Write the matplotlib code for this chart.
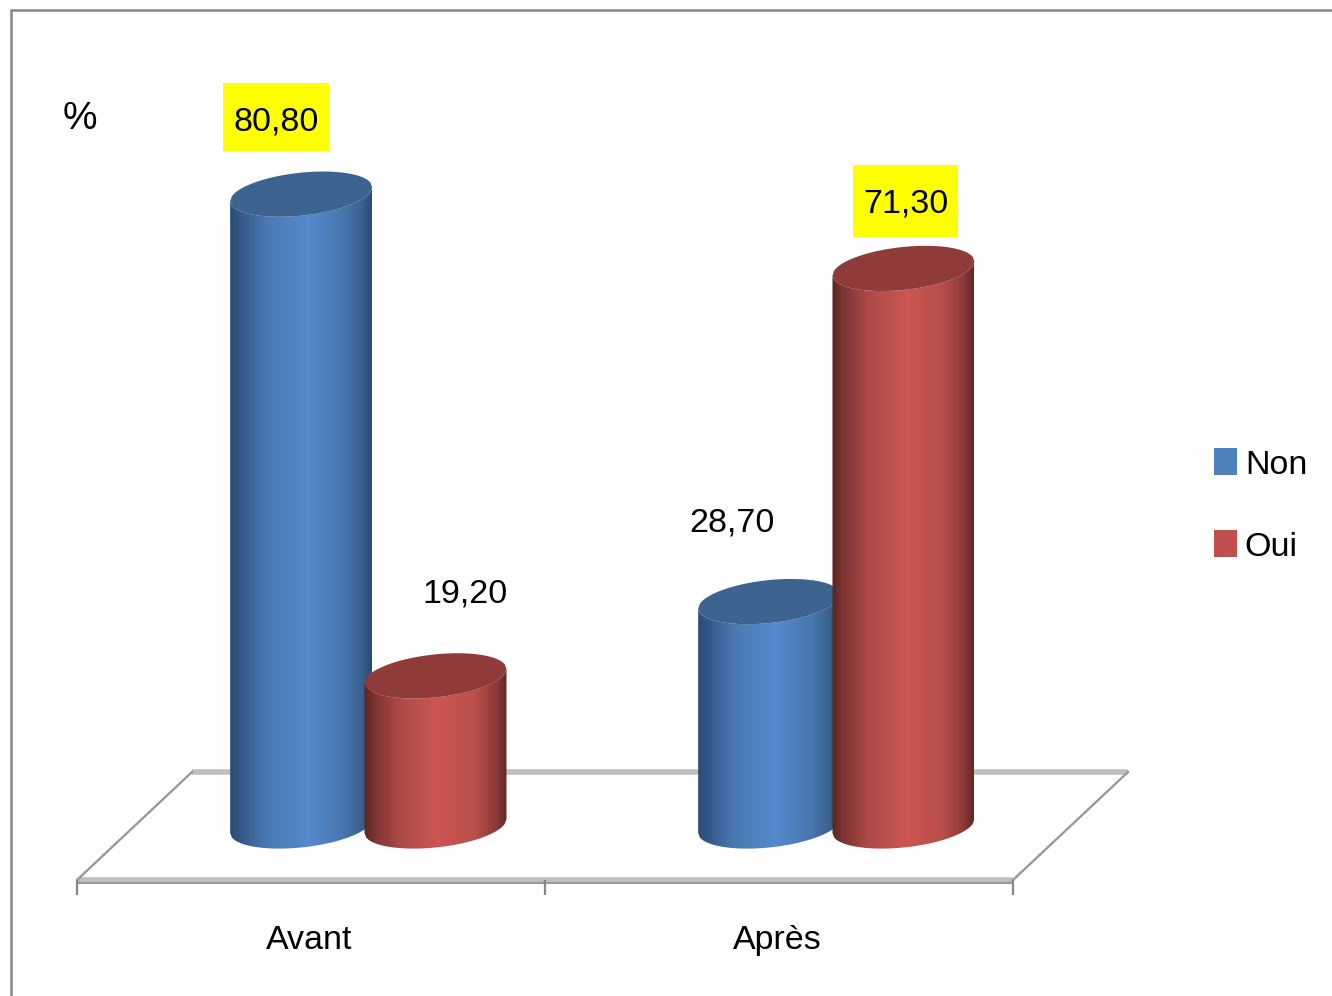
import numpy as np
import matplotlib
matplotlib.use("Agg")
import matplotlib.pyplot as plt
from matplotlib.colors import LinearSegmentedColormap
from matplotlib.patches import Patch, PathPatch, Polygon, Rectangle
from matplotlib.path import Path

plt.rcParams['font.family'] = ['Liberation Sans', 'DejaVu Sans']

# donnees
categories = ['Avant', 'Après']
series_names = ['Non', 'Oui']
non_values = [80.80, 28.70]
oui_values = [19.20, 71.30]

W, H = 1332, 996
PX_X = 468.0   # pixels par categorie
PX_Y = 7.82    # pixels par point de %
X0 = 311.0     # pixel de la categorie 0
Y0 = 826.0     # pixel de la valeur 0

FONT = 24.5

blue_cmap = LinearSegmentedColormap.from_list('blue', [
    (0.0, '#2b4c74'), (0.08, '#35598a'), (0.25, '#4a79b2'), (0.55, '#5589cc'),
    (0.78, '#4a79b2'), (0.93, '#3a6190'), (1.0, '#2b4c74')])
red_cmap = LinearSegmentedColormap.from_list('red', [
    (0.0, '#5c2624'), (0.08, '#7f3532'), (0.25, '#ad4a47'), (0.52, '#cc5652'),
    (0.78, '#b84f4b'), (0.93, '#8a3a37'), (1.0, '#632825')])
TOP_COLORS = {'Non': '#3d6490', 'Oui': '#8f3b3a'}
FLAT_COLORS = {'Non': '#4f81bd', 'Oui': '#c0504d'}
CMAPS = {'Non': blue_cmap, 'Oui': red_cmap}

fig = plt.figure(figsize=(W / 100, H / 100), dpi=100)
ax = fig.add_axes([0, 0, 1, 1])
xlim = (-X0 / PX_X, (W - X0) / PX_X)
ylim = ((Y0 - H) / PX_Y, Y0 / PX_Y)
ax.set_xlim(xlim)
ax.set_ylim(ylim)
ax.axis('off')


def arc(cx, cy, half_w, half_h, shear, sign, reverse=False):
    """ moitie d'ellipse inclinee (sign=-1 dessous, sign=1 dessus) """
    t = np.linspace(-1, 1, 80)
    if reverse:
        t = t[::-1]
    return np.column_stack([cx + half_w * t,
                            cy + shear * t + sign * half_h * np.sqrt(1 - t ** 2)])


def cylinder(x, value, name, zorder):
    half_w = 71 / PX_X
    half_h = 21.5 / PX_Y
    shear = 7 / PX_Y
    # corps du cylindre
    outline = np.vstack([arc(x, 0, half_w, half_h, shear, -1),
                         arc(x, value, half_w, half_h, shear, -1, reverse=True)])
    body = PathPatch(Path(outline), fc='none', ec='none', zorder=zorder)
    ax.add_patch(body)
    grad = np.linspace(0, 1, 142).reshape(1, -1)
    img = ax.imshow(grad, cmap=CMAPS[name], aspect='auto', zorder=zorder,
                    extent=[x - half_w, x + half_w, -6, value + 6])
    img.set_clip_path(body)
    # dessus
    top = np.vstack([arc(x, value, half_w, half_h, shear, -1),
                     arc(x, value, half_w, half_h, shear, 1, reverse=True)])
    ax.add_patch(Polygon(top, closed=True, fc=TOP_COLORS[name], ec='none', zorder=zorder))


# plancher
floor_y_front = -54 / PX_Y
floor_y_back = 54 / PX_Y
left = -0.5
right = len(categories) - 0.5
depth = 115 / PX_X
ax.plot([left + depth, right + depth], [floor_y_back, floor_y_back],
        color='#bfbfbf', lw=4, solid_capstyle='butt', zorder=1)
ax.plot([left, right], [floor_y_front, floor_y_front],
        color='#bfbfbf', lw=4, solid_capstyle='butt', zorder=1)
ax.plot([left, right], [floor_y_front - 3 / PX_Y, floor_y_front - 3 / PX_Y],
        color='#999999', lw=1.5, solid_capstyle='butt', zorder=1)
for x_start in (left, right):
    ax.plot([x_start, x_start + depth], [floor_y_front, floor_y_back],
            color='#999999', lw=1.7, zorder=1)
for tick in np.arange(left, right + 0.5):
    ax.plot([tick, tick], [floor_y_front, floor_y_front - 15 / PX_Y],
            color='#868686', lw=1.6, solid_capstyle='butt', zorder=1)

# barres
offsets = {'Non': -0.021, 'Oui': 0.266}
values = {'Non': non_values, 'Oui': oui_values}
# decalage des etiquettes par rapport au sommet (pixels)
label_shift = {('Non', 0): (-25, 72), ('Oui', 0): (30, 82),
               ('Non', 1): (-37, 79), ('Oui', 1): (2, 64)}
# surlignage jaune : largeur, hauteur, decalage vertical par rapport au texte
highlighted = {('Non', 0): (106, 68, 5), ('Oui', 1): (105, 72, 3)}

zorder = 2
for i in range(len(categories)):
    for name in series_names:
        v = values[name][i]
        x = i + offsets[name]
        cylinder(x, v, name, zorder)
        zorder += 1
        dx, dy = label_shift[(name, i)]
        tx = x + dx / PX_X
        ty = v + dy / PX_Y
        if (name, i) in highlighted:
            bw, bh, bshift = highlighted[(name, i)]
            ax.add_patch(Rectangle((tx - bw / 2 / PX_X, ty + (bshift - bh / 2) / PX_Y),
                                   bw / PX_X, bh / PX_Y, fc='#ffff00', ec='none', zorder=20))
        ax.text(tx, ty, ('%.2f' % v).replace('.', ','), fontsize=FONT, ha='center',
                va='center', color='black', zorder=21)

# noms des categories
for i, cat in enumerate(categories):
    ax.text(i - 2 / PX_X, -114 / PX_Y, cat, fontsize=FONT, ha='center', va='center')

ax.text(-231 / PX_X, 707 / PX_Y, '%', fontsize=28, ha='center', va='center')

# legende
handles = [Patch(fc=FLAT_COLORS[n], ec='none', label=n) for n in series_names]
ax.legend(handles=handles, loc='upper left', bbox_to_anchor=(1187 / W, 1 - 421 / H),
          frameon=False, fontsize=FONT, handlelength=0.68, handleheight=0.85,
          handletextpad=0.22, labelspacing=1.46, borderpad=0.3)

# cadre du graphique
fig.add_artist(Rectangle((11 / W, -0.1), 1.2, 0.1 + (H - 10) / H, transform=fig.transFigure,
                         fc='none', ec='#868686', lw=1.8))

fig.savefig('out.png', dpi=100)
